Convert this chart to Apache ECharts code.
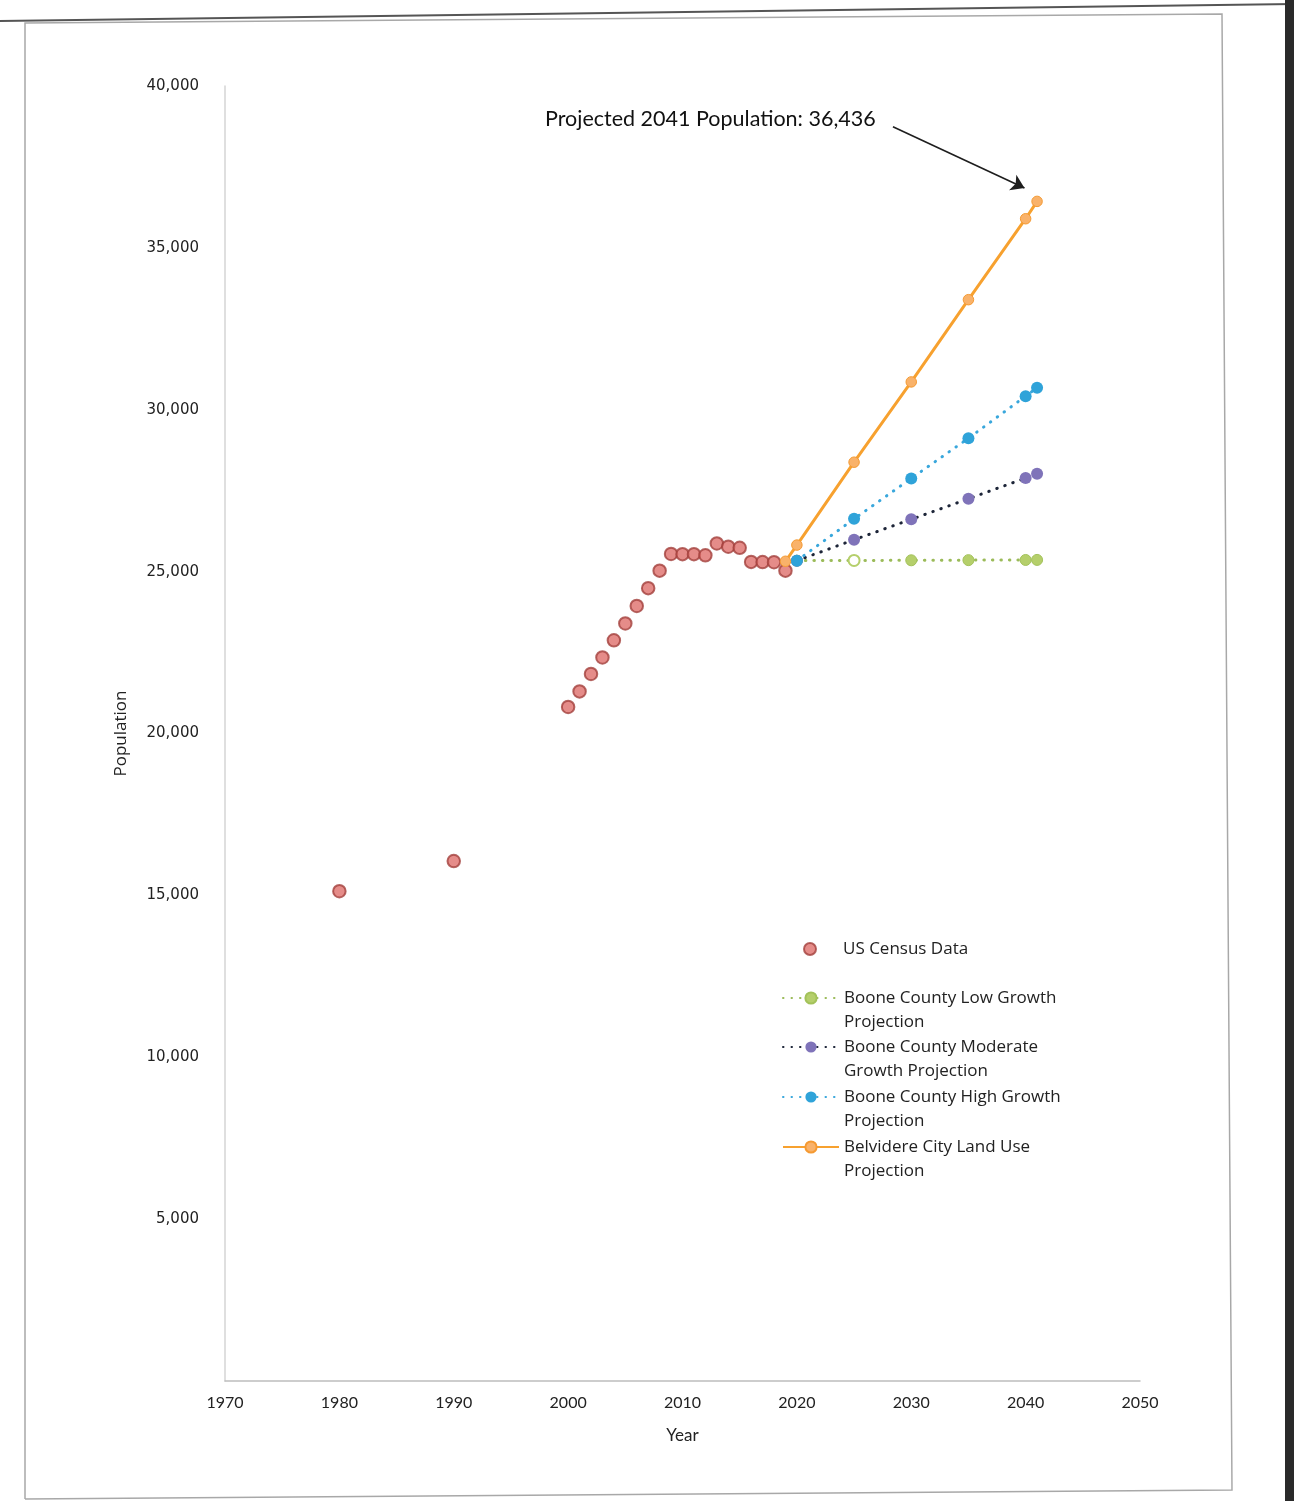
<!DOCTYPE html>
<html>
<head>
<meta charset="utf-8">
<title>Belvidere Population Projections</title>
<script src="https://cdn.jsdelivr.net/npm/echarts@6/dist/echarts.min.js"></script>
<style>
  html, body { margin: 0; padding: 0; background: #fff; }
  #chart { width: 1294px; height: 1501px; }
</style>
</head>
<body>
<div id="chart"></div>
<script>
// US Census counts (1980, 1990, 2000) and annual estimates (2001-2019)
const censusYears = [1980, 1990, 2000, 2001, 2002, 2003, 2004, 2005, 2006, 2007, 2008,
  2009, 2010, 2011, 2012, 2013, 2014, 2015, 2016, 2017, 2018, 2019];
const censusPop = [15130, 16060, 20820, 21300, 21840, 22350, 22880, 23400, 23940, 24490, 25030,
  25545, 25540, 25540, 25505, 25870, 25770, 25735, 25300, 25295, 25290, 25030];

// Boone County projections
const projYears = [2020, 2025, 2030, 2035, 2040, 2041];
const lowGrowth = [25339, 25345, 25350, 25355, 25360, 25362];
const moderateGrowth = [25339, 25985, 26615, 27250, 27890, 28020];
const highGrowth = [25339, 26630, 27880, 29120, 30420, 30680];

// Belvidere City land use projection
const landUseYears = [2019, 2020, 2025, 2030, 2035, 2040, 2041];
const landUsePop = [25320, 25820, 28380, 30860, 33400, 35900, 36436];

// Callout arrow ends (year, population)
const calloutFrom = [2028.4, 38740];
const calloutTo = [2039.9, 36850];

const seriesNames = [
  'US Census Data',
  'Boone County Low Growth\nProjection',
  'Boone County Moderate\nGrowth Projection',
  'Boone County High Growth\nProjection',
  'Belvidere City Land Use\nProjection'
];

const pairs = (xs, ys) => xs.map((x, i) => [x, ys[i]]);

const FONT = 'Open Sans';
const legendText = { fontFamily: FONT, fontSize: 17, color: '#222', lineHeight: 24 };
// round-capped short dashes read as dots
const DOTS = [0.5, 8];

// One legend block per series; two-line names get a leading blank line so the
// icon sits level with the first line of text.
function legendFor(name, left, top, itemHeight, twoLines) {
  return {
    data: [name],
    orient: 'vertical',
    left: left,
    top: top,
    padding: 0,
    itemWidth: 56,
    itemHeight: itemHeight,
    selectedMode: false,
    formatter: twoLines ? (n => '\n' + n) : (n => n),
    textStyle: legendText
  };
}

const chart = echarts.init(document.getElementById('chart'), null, { renderer: 'canvas' });

chart.setOption({
  animation: false,
  backgroundColor: '#fff',
  grid: { left: 225, right: 154, top: 86, bottom: 120, containLabel: false },
  xAxis: {
    type: 'value',
    min: 1970, max: 2050, interval: 10,
    name: 'Year',
    nameLocation: 'middle',
    nameGap: 46,
    nameTextStyle: { fontFamily: 'Lato', fontSize: 17, color: '#222' },
    axisLine: { show: true, lineStyle: { color: '#bdbdbd', width: 1.5 } },
    axisTick: { show: false },
    splitLine: { show: false },
    axisLabel: {
      fontFamily: 'Lato', fontSize: 16, color: '#222', margin: 14,
      formatter: v => String(v)
    }
  },
  yAxis: {
    type: 'value',
    min: 0, max: 40000, interval: 5000,
    name: 'Population',
    nameLocation: 'middle',
    nameGap: 95,
    nameTextStyle: { fontFamily: FONT, fontSize: 17, color: '#222' },
    axisLine: { show: true, lineStyle: { color: '#d4d4d4', width: 1.5 } },
    axisTick: { show: false },
    splitLine: { show: false },
    axisLabel: {
      fontFamily: 'DejaVu Sans', fontSize: 15, color: '#222', margin: 26,
      formatter: v => (v === 0 ? '' : v.toLocaleString('en-US'))
    }
  },
  legend: [
    legendFor(seriesNames[0], 803, 937, 12, false),
    legendFor(seriesNames[1], 782, 962, 14, true),
    legendFor(seriesNames[2], 782, 1011, 14, true),
    legendFor(seriesNames[3], 782, 1061, 14, true),
    legendFor(seriesNames[4], 782, 1111, 14, true)
  ],
  series: [
    {
      name: seriesNames[0],
      type: 'scatter',
      data: pairs(censusYears, censusPop),
      symbol: 'circle',
      symbolSize: 12.5,
      itemStyle: { color: '#df6f6b', borderColor: '#a3403c', borderWidth: 2 },
      z: 3
    },
    {
      name: seriesNames[1],
      type: 'line',
      data: pairs(projYears, lowGrowth).map((p, i) =>
        i === 1 ? { value: p, symbol: 'emptyCircle' } : { value: p }),
      symbol: 'circle',
      symbolSize: 11,
      itemStyle: { color: '#b5cf6b', borderColor: '#a3c25a', borderWidth: 1 },
      lineStyle: { color: '#9bbb59', width: 3, type: DOTS, cap: 'round' },
      z: 4
    },
    {
      name: seriesNames[2],
      type: 'line',
      data: pairs(projYears, moderateGrowth),
      symbol: 'circle',
      symbolSize: 12,
      itemStyle: { color: '#7f73b9' },
      lineStyle: { color: '#1d2538', width: 3, type: DOTS, cap: 'round' },
      z: 5
    },
    {
      name: seriesNames[3],
      type: 'line',
      data: pairs(projYears, highGrowth),
      symbol: 'circle',
      symbolSize: 12,
      itemStyle: { color: '#2fa3d9' },
      lineStyle: { color: '#39a7dc', width: 3, type: DOTS, cap: 'round' },
      z: 6
    },
    {
      name: seriesNames[4],
      type: 'line',
      data: pairs(landUseYears, landUsePop),
      symbol: 'circle',
      symbolSize: 10.5,
      itemStyle: { color: '#f9b26a', borderColor: '#f59a32', borderWidth: 1 },
      lineStyle: { color: '#f7a12f', width: 3 },
      z: 7,
      markLine: {
        silent: true,
        animation: false,
        symbol: ['none', 'arrow'],
        symbolSize: 13,
        label: { show: false },
        lineStyle: { color: '#1e1e1e', width: 1.6, type: 'solid' },
        emphasis: { disabled: true },
        data: [[{ coord: calloutFrom }, { coord: calloutTo }]]
      }
    }
  ],
  graphic: [
    {
      type: 'text',
      left: 545, top: 108,
      style: {
        text: 'Projected 2041 Population: 36,436',
        font: '21.5px Lato',
        fill: '#111'
      }
    },
    // chart area frame
    {
      type: 'polyline',
      silent: true,
      shape: { points: [[25, 1499], [25, 23], [1222, 14], [1232, 1490], [25, 1499]] },
      style: { stroke: '#a8a8a8', lineWidth: 1.5, fill: null }
    },
    {
      type: 'line',
      silent: true,
      shape: { x1: 0, y1: 21, x2: 1294, y2: 4 },
      style: { stroke: '#555', lineWidth: 2 }
    },
    {
      type: 'rect',
      silent: true,
      shape: { x: 1285, y: 0, width: 9, height: 1501 },
      style: { fill: '#2a2a2a' }
    }
  ]
});
</script>
</body>
</html>
